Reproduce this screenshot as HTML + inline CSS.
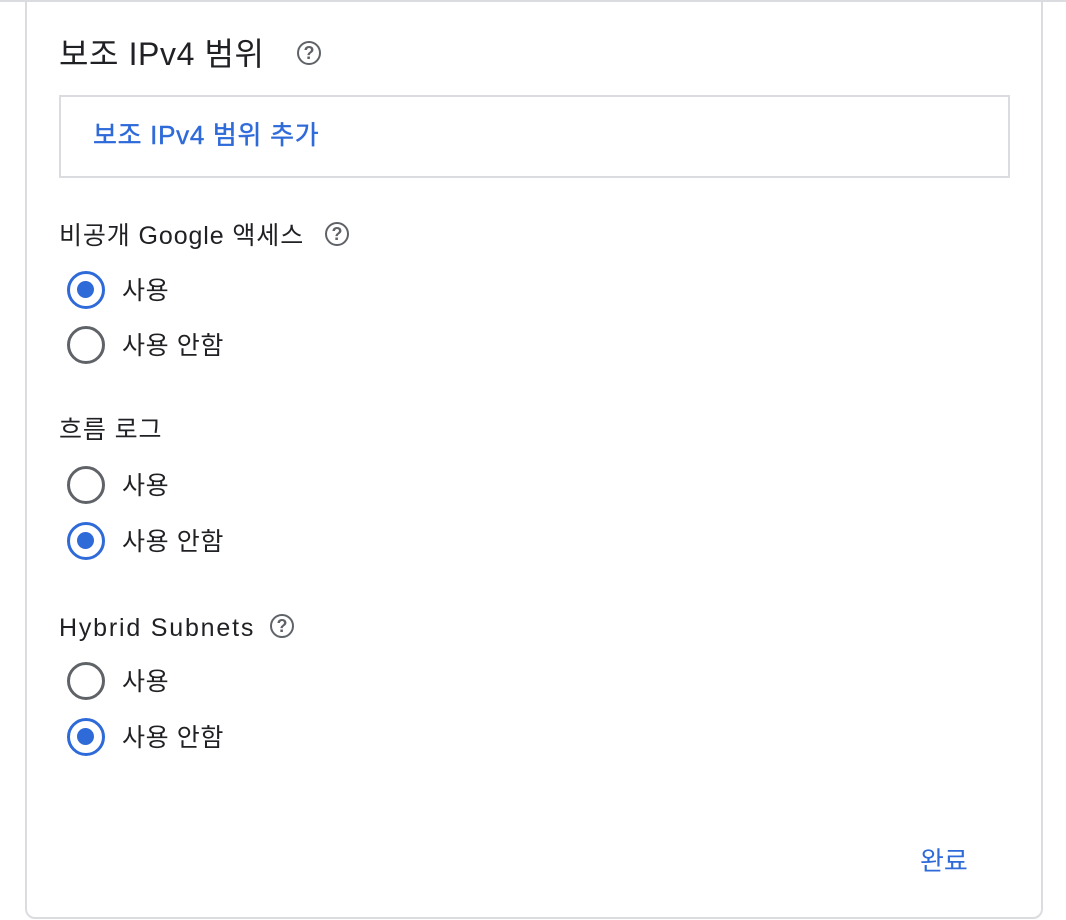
<!DOCTYPE html>
<html><head><meta charset="utf-8"><style>
body{margin:0;width:1066px;height:920px;background:#fff;position:relative;overflow:hidden;font-family:"Liberation Sans","Noto Sans CJK KR",sans-serif;color:#202124}
.card{position:absolute;left:25px;top:-10px;width:1018px;height:929px;border:2px solid #dadce0;border-radius:10px;box-sizing:border-box}
.topline{position:absolute;left:0;top:0;width:1066px;height:2px;background:#dadce0}
.abs{position:absolute;white-space:nowrap}
.help{position:absolute;width:24px;height:24px;border:2.5px solid #5f6368;border-radius:50%;box-sizing:border-box;color:#5f6368;font-size:18px;font-weight:bold;text-align:center;line-height:20px}
.radio{position:absolute;left:67px;width:38px;height:38px;border-radius:50%;box-sizing:border-box;border:3.5px solid #5f6368}
.radio.on{border-color:#2f6ad9}
.radio.on::after{content:"";position:absolute;left:7px;top:7px;width:17px;height:17px;border-radius:50%;background:#2f6ad9}
.lbl{position:absolute;left:122px;font-size:25px;line-height:30px;letter-spacing:0.6px}
.sec{position:absolute;left:59px;font-size:25px;line-height:30px;letter-spacing:0.9px}
</style></head><body>
<div class="topline"></div>
<div class="card"></div>
<div class="abs" style="left:59px;top:35px;font-size:32px;line-height:38px;letter-spacing:0.6px">보조 IPv4 범위</div>
<div class="help" style="left:297px;top:41px">?</div>
<div class="abs" style="left:59px;top:95px;width:951px;height:83px;border:2px solid #dadce0;box-sizing:border-box"></div>
<div class="abs" style="left:93px;top:120px;font-size:26px;line-height:30px;color:#2f6ad9;letter-spacing:0.7px;-webkit-text-stroke:0.4px #2f6ad9">보조 IPv4 범위 추가</div>

<div class="sec" style="top:221px">비공개 Google 액세스</div>
<div class="help" style="left:325px;top:222px">?</div>
<div class="radio on" style="top:271px"></div>
<div class="lbl" style="top:276px">사용</div>
<div class="radio" style="top:326px"></div>
<div class="lbl" style="top:331px">사용 안함</div>

<div class="sec" style="top:415px">흐름 로그</div>
<div class="radio" style="top:466px"></div>
<div class="lbl" style="top:471px">사용</div>
<div class="radio on" style="top:522px"></div>
<div class="lbl" style="top:527px">사용 안함</div>

<div class="sec" style="top:613px;letter-spacing:1.8px">Hybrid Subnets</div>
<div class="help" style="left:270px;top:614px">?</div>
<div class="radio" style="top:662px"></div>
<div class="lbl" style="top:667px">사용</div>
<div class="radio on" style="top:718px"></div>
<div class="lbl" style="top:723px">사용 안함</div>

<div class="abs" style="left:920px;top:846px;font-size:26px;line-height:30px;color:#2f6ad9">완료</div>
</body></html>
